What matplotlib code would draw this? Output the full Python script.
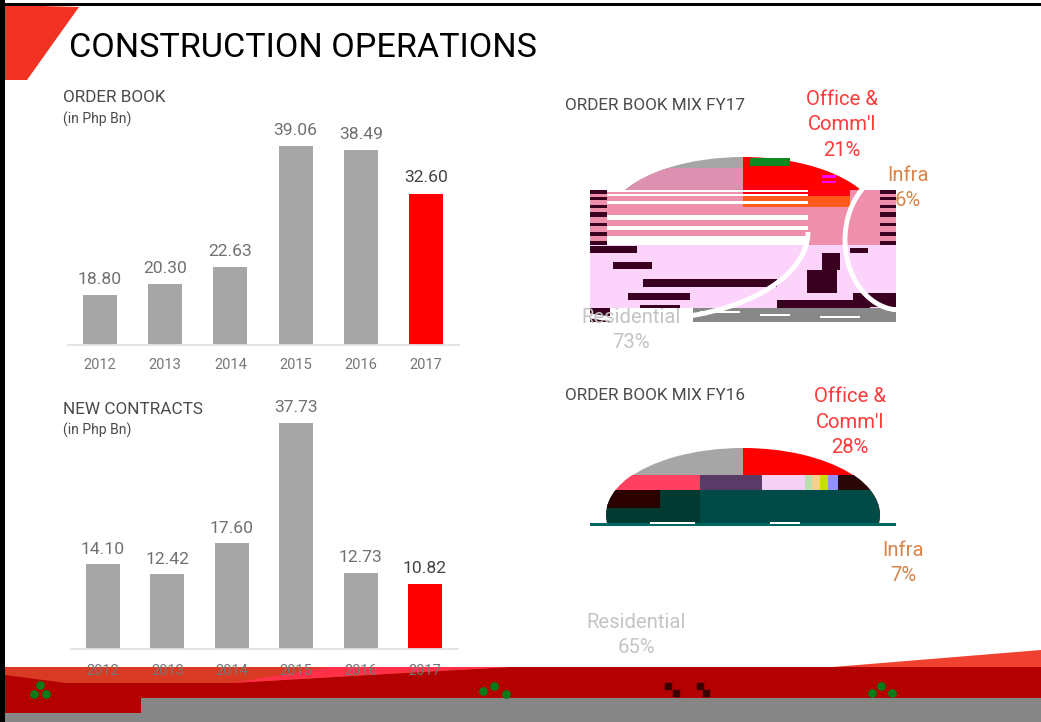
import matplotlib
matplotlib.use("Agg")
import matplotlib.pyplot as plt
from matplotlib.patches import Rectangle, Polygon, Ellipse, Arc

plt.rcParams['font.family'] = ['Roboto', 'DejaVu Sans']

years = ['2012', '2013', '2014', '2015', '2016', '2017']
order_book = [18.80, 20.30, 22.63, 39.06, 38.49, 32.60]
new_contracts = [14.10, 12.42, 17.60, 37.73, 12.73, 10.82]
mix_labels = ["Office &\nComm'l", 'Infra', 'Residential']
mix_fy17 = [21, 6, 73]
mix_fy16 = [28, 7, 65]

W, H = 1041, 722
GREY, RED = '#a6a6a6', '#ff0000'
MIX_COLORS = ['#ff0000', '#ed7d31', '#a6a6a6']
LABEL_COLORS = ['#ff3a3a', '#d98448', '#c4c4c4']

fig = plt.figure(figsize=(W / 100, H / 100), dpi=100, facecolor='white')


def axes_px(x0, y0, x1, y1, z):
    a = fig.add_axes([x0 / W, 1 - y1 / H, (x1 - x0) / W, (y1 - y0) / H], zorder=z)
    a.patch.set_alpha(0)
    return a


def bars(values, x0, x1, first, step, width, base, top, y0, y1, pad, off):
    a = axes_px(x0, top, x1, base, 5)
    pos = list(range(len(values)))
    cols = [GREY] * 5 + [RED]
    a.bar(pos, values, width=width / step, color=cols)
    a.set_xlim((x0 - first) / step, (x1 - first) / step)
    a.set_ylim(y0, y1)
    a.set_yticks([])
    a.set_xticks(pos, years)
    a.tick_params(axis='x', length=0, pad=pad, labelsize=10.5, labelcolor='#767676')
    for s in ['top', 'left', 'right']:
        a.spines[s].set_visible(False)
    a.spines['bottom'].set_color('#e2e2e2')
    a.spines['bottom'].set_linewidth(1.3)
    for i, v in enumerate(values):
        a.annotate(f'{v:.2f}', (i, v), xytext=(0, off), textcoords='offset points',
                   ha='center', va='bottom', fontsize=12.6,
                   color='#444444' if i == 5 else '#707070')
    return a


bars(order_book, 68, 459, 100, 65.2, 34, 345, 100, 12, 12 + 245 / 7.35, 9.5, 6)
bars(new_contracts, 71, 458, 103, 64.4, 34, 649, 390, 0, 259 / 6.0, 11, 5.5)


def pie(values, cy, bottom):
    a = axes_px(606, cy - 67, 880, bottom, 1)
    a.pie(values, colors=MIX_COLORS, startangle=90, counterclock=False, radius=1,
          wedgeprops={'clip_on': True})
    a.set_aspect('auto')
    a.set_xlim(-1, 1)
    a.set_ylim(-(bottom - cy) / 67, 1)


pie(mix_fy17, 224, 291)
pie(mix_fy16, 515, 526)

ov = axes_px(0, 0, W, H, 2)
ov.set_xlim(0, W)
ov.set_ylim(H, 0)
ov.axis('off')


def rect(x0, y0, x1, y1, c, clip=None, z=3):
    r = Rectangle((x0, y0), x1 - x0, y1 - y0, fc=c, ec='none', zorder=z)
    ov.add_patch(r)
    if clip is not None:
        r.set_clip_path(clip)
    return r


# slide frame and corner
ov.add_patch(Polygon([(5, 5), (79, 7), (27, 80), (5, 80)], fc='#f23222', ec='none'))
rect(0, 0, 5, H, 'black', z=9)
rect(0, 3, W, 6, 'black', z=9)

# FY17 pie: damaged rendering
e17 = Ellipse((743, 224), 274, 134, fc='none', ec='none')
ov.add_patch(e17)
rect(607, 168, 743, 190, '#dd90b0', clip=e17)
rect(590, 190, 896, 245, '#ee90ac')
rect(743, 190, 808, 207, '#ff0010')
rect(808, 190, 850, 200, '#ff0010')
rect(743, 196, 850, 207, '#ff5a1a')
rect(743, 186, 800, 196, '#ff0010')
rect(590, 245, 896, 310, '#fbd3fb')
for y0, y1 in [(190, 194), (197, 200), (205, 208), (212, 217), (223, 226), (232, 236), (241, 245)]:
    rect(590, y0, 607, y1, '#3a0020')
    rect(880, y0, 896, y1, '#3a0020')
for y0, y1 in [(190, 192), (194, 196), (201, 204), (215, 220), (226, 230), (236, 245)]:
    rect(607, y0, 808, y1, 'white')
for x0, y0, x1, y1 in [(590, 246, 637, 253), (613, 262, 652, 269), (643, 279, 777, 287),
                       (628, 293, 690, 300), (822, 253, 840, 270), (807, 270, 837, 293),
                       (777, 300, 870, 308), (853, 293, 896, 307), (850, 248, 868, 253),
                       (640, 305, 680, 309)]:
    rect(x0, y0, x1, y1, '#3a0020')
rect(693, 308, 896, 322, '#888888')
rect(590, 308, 610, 322, '#3a0020')
rect(610, 308, 693, 322, 'white')
for x0, y0, x1 in [(760, 314, 790), (820, 316, 860), (700, 311, 740)]:
    rect(x0, y0, x1, y0 + 2, 'white', z=4)
rect(750, 158, 790, 166, '#0f8a20', z=4)
rect(822, 175, 836, 178, '#ff00ff', z=4)
rect(822, 181, 836, 183, '#ff00ff', z=4)
ov.add_patch(Arc((640, 232), 336, 176, theta1=0, theta2=130, ec='white', lw=3.5, zorder=5))
ov.add_patch(Arc((900, 240), 110, 140, theta1=90, theta2=260, ec='white', lw=3.5, zorder=5))

# FY16 pie: damaged rendering
e16 = Ellipse((743, 515), 274, 136, fc='none', ec='none')
ov.add_patch(e16)
rect(600, 475, 705, 490, '#ff4060', clip=e16)
rect(700, 475, 762, 490, '#5a3a66', clip=e16)
rect(762, 475, 805, 490, '#f5d0f5', clip=e16)
for x0, x1, c in [(805, 812, '#b8e0b0'), (812, 820, '#f5d090'), (820, 828, '#c8e000'), (828, 838, '#9090ff')]:
    rect(x0, 475, x1, 490, c, clip=e16)
rect(838, 475, 885, 490, '#2a0808', clip=e16)
rect(600, 490, 700, 526, '#003a30', clip=e16)
rect(700, 490, 885, 526, '#004a48', clip=e16)
rect(600, 490, 660, 508, '#2a0000', clip=e16)
rect(590, 523, 896, 526, '#006660')
rect(650, 522, 695, 524, 'white', z=4)
rect(770, 522, 800, 524, 'white', z=4)

# footer
rect(5, 667, W, 722, '#b30000', z=1)
rect(141, 698, W, 722, '#868686', z=2)
rect(5, 713, 141, 722, '#868686', z=2)
ov.add_patch(Polygon([(5, 667), (511, 667), (232, 683), (66, 683), (5, 675)], fc='#d93a24', ec='none', zorder=2))
ov.add_patch(Polygon([(330, 667), (511, 667), (400, 673), (232, 683)], fc='#ff3048', ec='none', zorder=2))
ov.add_patch(Polygon([(833, 667), (1041, 650), (1041, 667)], fc='#f04030', ec='none', zorder=2))
gx = [40, 34, 46, 494, 483, 506, 881, 892, 872]
gy = [685, 694, 694, 686, 691, 694, 686, 693, 693]
ov.scatter(gx, gy, s=28, c='#0a7a1a', marker='o', zorder=4)
kx = [668, 676, 700, 706]
ky = [686, 693, 686, 693]
ov.scatter(kx, ky, s=14, c='#3a0000', marker='s', zorder=4)


def txt(x, y, s, size, c='#4a4a4a', ha='left', **kw):
    return ov.text(x, y, s, fontsize=size, color=c, ha=ha, va='center', zorder=10, **kw)


title = txt(69, 48, 'CONSTRUCTION OPERATIONS', 27, 'black')
width = title.get_window_extent(fig.canvas.get_renderer()).width
title.set_fontsize(27 * 467 / width)
txt(63, 98, 'ORDER BOOK', 12.3)
txt(63, 119, '(in Php Bn)', 10)
txt(63, 409, 'NEW CONTRACTS', 12.3)
txt(63, 430, '(in Php Bn)', 10)
txt(565, 105, 'ORDER BOOK MIX FY17', 12.3)
txt(565, 395, 'ORDER BOOK MIX FY16', 12.3)


def mix_text(vals, xy):
    for (x, y), lab, v, c in zip(xy, mix_labels, vals, LABEL_COLORS):
        ov.text(x, y, f'{lab}\n{v}%', fontsize=14.6, color=c, ha='center', va='center',
                linespacing=1.42, zorder=10)


mix_text(mix_fy17, [(842, 125), (908, 188), (631, 330)])
mix_text(mix_fy16, [(850, 422), (903, 563), (636, 635)])

fig.savefig('out.png', dpi=100)
